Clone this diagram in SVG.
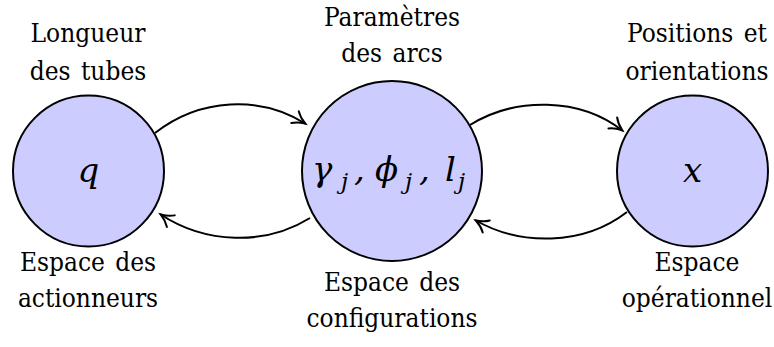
<svg xmlns="http://www.w3.org/2000/svg" width="774" height="347" viewBox="0 0 774 347">
<style>
.node{fill:#ccccff;stroke:#000;stroke-width:2}
.lbl{font-family:"DejaVu Serif Condensed","DejaVu Serif","Liberation Serif",serif;font-stretch:condensed;font-size:26px;fill:#000;text-anchor:middle;word-spacing:3px}
.math{font-family:"DejaVu Serif","Liberation Serif",serif;font-style:italic;font-size:34px;fill:#000}
.sub{font-size:23px}
.edge{fill:none;stroke:#000;stroke-width:2;marker-end:url(#arr)}
</style>
<defs>
<marker id="arr" markerUnits="userSpaceOnUse" markerWidth="20" markerHeight="20" refX="2" refY="0" viewBox="-14 -10 20 20" orient="auto">
<path d="M-11,-7 C-7,-3 -2,-1 1,0 C-2,1 -7,3 -11,7" fill="none" stroke="#000" stroke-width="2" stroke-linecap="round"/>
</marker>
</defs>
<rect width="774" height="347" fill="#fff"/>
<g id="edges">
<path class="edge" d="M155,133 C200,98 260,95 306,124"/>
<path class="edge" d="M310,218 C265,246 205,244 160,214"/>
<path class="edge" d="M470,125 C515,97 580,97 623,131"/>
<path class="edge" d="M627,212 C583,246 520,246 475,220"/>
</g>
<g id="node-q">
<circle class="node" cx="88.5" cy="171" r="75.5"/>
<text class="math" x="88.5" y="182" text-anchor="middle">q</text>
<text class="lbl" x="88" y="42">Longueur</text>
<text class="lbl" x="88" y="80">des tubes</text>
<text class="lbl" x="88" y="271">Espace des</text>
<text class="lbl" x="88" y="307">actionneurs</text>
</g>
<g id="node-conf">
<circle class="node" cx="392" cy="171" r="90"/>
<text class="math" y="181"><tspan x="312">γ</tspan><tspan class="sub" x="341" y="189">j</tspan><tspan x="354" y="181">,</tspan><tspan x="375">ϕ</tspan><tspan class="sub" x="405" y="189">j</tspan><tspan x="419" y="181">,</tspan><tspan x="445">l</tspan><tspan class="sub" x="458" y="189">j</tspan></text>
<text class="lbl" x="392" y="26">Paramètres</text>
<text class="lbl" x="392" y="62">des arcs</text>
<text class="lbl" x="392" y="291">Espace des</text>
<text class="lbl" x="392" y="327">configurations</text>
</g>
<g id="node-x">
<circle class="node" cx="692.5" cy="171" r="75.5"/>
<text class="math" x="692.5" y="182" text-anchor="middle">x</text>
<text class="lbl" x="697" y="42">Positions et</text>
<text class="lbl" x="697" y="80">orientations</text>
<text class="lbl" x="697" y="271">Espace</text>
<text class="lbl" x="697" y="307">opérationnel</text>
</g>
</svg>
